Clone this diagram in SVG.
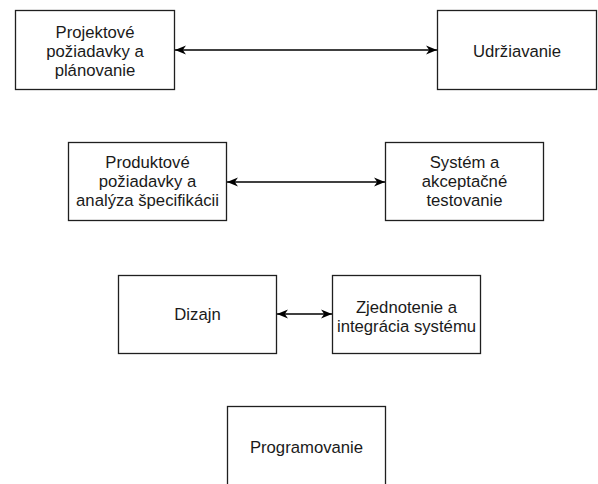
<svg xmlns="http://www.w3.org/2000/svg" width="598" height="484" viewBox="0 0 598 484">
  <style>
    .box { fill: #ffffff; stroke: #1f1f1f; stroke-width: 1.3; }
    .lbl { font-family: "Liberation Sans", Arial, Helvetica, sans-serif; font-size: 16.7px; fill: #1a1a1a; text-anchor: middle; }
    .conn { stroke: #000000; stroke-width: 1.3; fill: none; marker-start: url(#arrow); marker-end: url(#arrow); }
  </style>
  <defs>
    <!-- classic notched arrowhead, used at both ends of every connector -->
    <marker id="arrow" viewBox="0 0 11 10" refX="11" refY="5" markerWidth="11" markerHeight="10" markerUnits="userSpaceOnUse" orient="auto-start-reverse">
      <path d="M11,5 L0,0.5 L3.2,5 L0,9.5 Z" fill="#000000"/>
    </marker>
  </defs>
  <rect width="598" height="484" fill="#ffffff"/>

  <g id="connectors">
    <line class="conn" x1="175" y1="50" x2="437" y2="50"/>
    <line class="conn" x1="227" y1="182" x2="385" y2="182"/>
    <line class="conn" x1="277" y1="314" x2="332" y2="314"/>
  </g>

  <g id="node-projektove">
    <rect class="box" x="15.5" y="10.5" width="159" height="79"/>
    <text class="lbl" x="95" y="38">Projektové</text>
    <text class="lbl" x="95" y="57">požiadavky a</text>
    <text class="lbl" x="95" y="76">plánovanie</text>
  </g>

  <g id="node-udrziavanie">
    <rect class="box" x="437.5" y="10.5" width="159" height="79"/>
    <text class="lbl" x="517" y="57">Udržiavanie</text>
  </g>

  <g id="node-produktove">
    <rect class="box" x="68.5" y="142.5" width="158" height="78"/>
    <text class="lbl" x="147.5" y="168">Produktové</text>
    <text class="lbl" x="147.5" y="187">požiadavky a</text>
    <text class="lbl" x="147.5" y="206">analýza špecifikácii</text>
  </g>

  <g id="node-system">
    <rect class="box" x="385.5" y="142.5" width="158" height="78"/>
    <text class="lbl" x="464.5" y="168">Systém a</text>
    <text class="lbl" x="464.5" y="187">akceptačné</text>
    <text class="lbl" x="464.5" y="206">testovanie</text>
  </g>

  <g id="node-dizajn">
    <rect class="box" x="118.5" y="275.5" width="158" height="78"/>
    <text class="lbl" x="197.5" y="320">Dizajn</text>
  </g>

  <g id="node-zjednotenie">
    <rect class="box" x="332.5" y="275.5" width="148" height="78"/>
    <text class="lbl" x="406.5" y="313">Zjednotenie a</text>
    <text class="lbl" x="406.5" y="332">integrácia systému</text>
  </g>

  <g id="node-programovanie">
    <rect class="box" x="227.5" y="406.5" width="158" height="80"/>
    <text class="lbl" x="306.5" y="453">Programovanie</text>
  </g>
</svg>
